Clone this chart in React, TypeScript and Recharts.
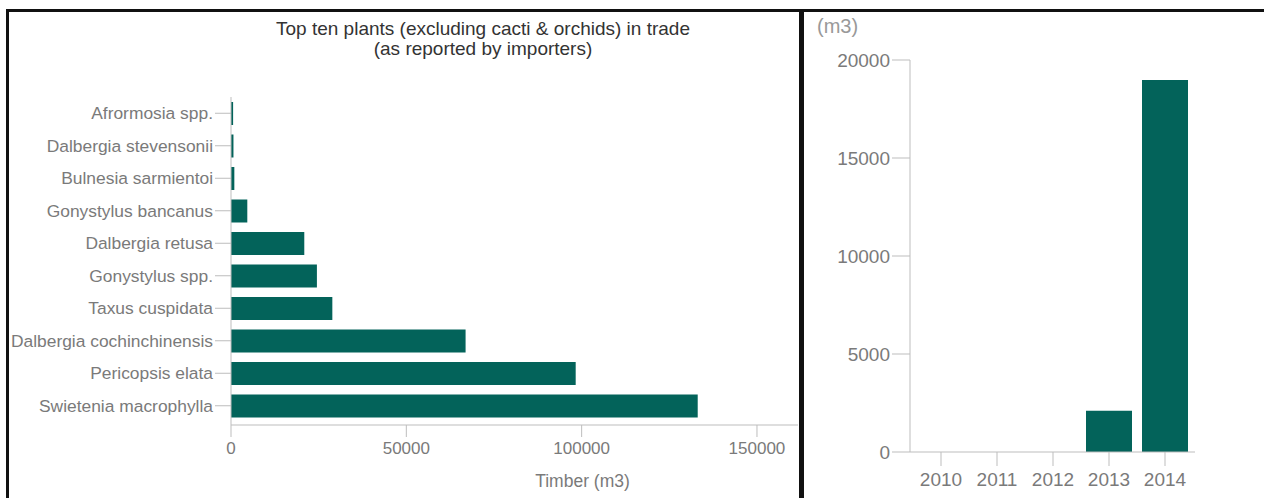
import { BarChart, Bar, XAxis, YAxis, Label } from 'recharts';

const plants = [
  'Afrormosia spp.',
  'Dalbergia stevensonii',
  'Bulnesia sarmientoi',
  'Gonystylus bancanus',
  'Dalbergia retusa',
  'Gonystylus spp.',
  'Taxus cuspidata',
  'Dalbergia cochinchinensis',
  'Pericopsis elata',
  'Swietenia macrophylla',
];
const timber = [600, 700, 950, 4650, 20900, 24500, 28900, 66900, 98300, 133100];
const timberTicks = [0, 50000, 100000, 150000];

const years = ['2010', '2011', '2012', '2013', '2014'];
const yearVolumes = [0, 0, 0, 2100, 18980];
const volumeTicks = [0, 5000, 10000, 15000, 20000];

const BAR = '#03635a';
const AXIS = '#bdbdbd';
const TEXT = '#7a7a7a';
const FONT = '"Liberation Sans", Arial, sans-serif';

export default function App() {
  const plantData = plants.map((name, i) => ({ name, value: timber[i] }));
  const yearData = years.map((year, i) => ({ year, value: yearVolumes[i] }));

  return (
    <div style={{ position: 'absolute', left: 0, top: 0, width: 1264, height: 498, background: '#fff', fontFamily: FONT, overflow: 'hidden' }}>
      {/* panel frames */}
      <div style={{ position: 'absolute', left: 6, top: 9, width: 790, height: 489, borderLeft: '3px solid #111', borderTop: '3px solid #111', borderRight: '3px solid #111' }} />
      <div style={{ position: 'absolute', left: 801, top: 9, width: 463, height: 489, borderLeft: '3px solid #111', borderTop: '3px solid #111' }} />

      <div style={{ position: 'absolute', left: 183, width: 600, top: 19, textAlign: 'center', fontSize: 19, lineHeight: '20px', color: '#333' }}>
        Top ten plants (excluding cacti &amp; orchids) in trade
        <br />
        (as reported by importers)
      </div>

      <div style={{ position: 'absolute', left: 0, top: 0 }}>
        <BarChart
          width={800}
          height={498}
          data={plantData}
          layout="vertical"
          margin={{ top: 97, right: 2, bottom: 0, left: 0 }}
        >
          <XAxis
            type="number"
            domain={[0, 161700]}
            ticks={timberTicks}
            stroke={AXIS}
            tickSize={12}
            tickMargin={5}
            height={73}
            tick={{ fill: TEXT, fontSize: 17, fontFamily: FONT }}
          >
            <Label value="Timber (m3)" position="insideBottom" offset={11} dx={68} fill={TEXT} fontSize={17.5} fontFamily={FONT} />
          </XAxis>
          <YAxis
            type="category"
            dataKey="name"
            width={231}
            stroke={AXIS}
            tickSize={16}
            tickMargin={2}
            padding={{ top: 0, bottom: 3 }}
            interval={0}
            tick={{ fill: TEXT, fontSize: 17.4, fontFamily: FONT }}
          />
          <Bar dataKey="value" fill={BAR} barSize={23} isAnimationActive={false} />
        </BarChart>
      </div>

      <div style={{ position: 'absolute', left: 817, top: 15, fontSize: 20, color: '#999' }}>(m3)</div>

      <div style={{ position: 'absolute', left: 804, top: 0 }}>
        <BarChart
          width={460}
          height={498}
          data={yearData}
          margin={{ top: 60, right: 69, bottom: 0, left: 0 }}
        >
          <XAxis
            dataKey="year"
            stroke={AXIS}
            tickSize={14}
            tickMargin={7}
            height={46}
            padding={{ left: 3, right: 2 }}
            tick={{ fill: TEXT, fontSize: 19, fontFamily: FONT }}
          />
          <YAxis
            type="number"
            domain={[0, 20000]}
            ticks={volumeTicks}
            width={106}
            stroke={AXIS}
            tickSize={18}
            tickMargin={2}
            tick={{ fill: TEXT, fontSize: 19, fontFamily: FONT }}
          />
          <Bar dataKey="value" fill={BAR} barSize={46} isAnimationActive={false} />
        </BarChart>
      </div>
    </div>
  );
}
